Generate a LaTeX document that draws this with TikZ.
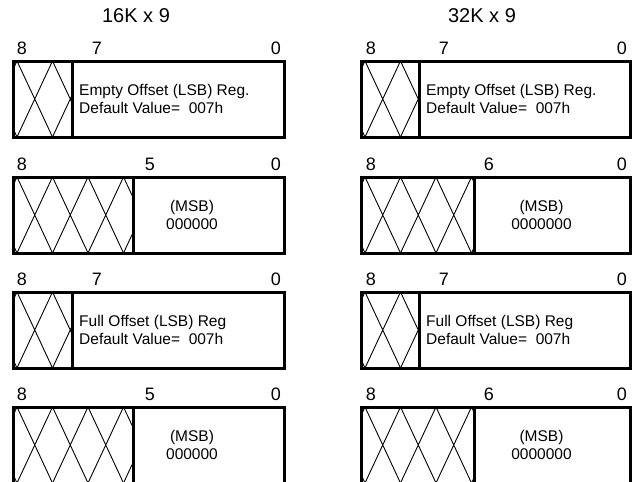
\documentclass[tikz,border=0pt]{standalone}
\usepackage{fontspec}
\setmainfont{Liberation Sans}
\usetikzlibrary{positioning}

\begin{document}
\begin{tikzpicture}[x=1pt, y=-1pt,
    regbox/.style={line width=3pt},
    hatch/.style={line width=0.9pt},
    bitnum/.style={font=\fontsize{18}{20}\selectfont, inner sep=0pt},
    title/.style={font=\fontsize{20}{22}\selectfont, inner sep=0pt},
    regtext/.style={font=\fontsize{15.5}{18}\selectfont, align=left, anchor=west, inner sep=0pt},
    msbtext/.style={font=\fontsize{15.5}{18}\selectfont, align=center, inner sep=0pt}
]
    \useasboundingbox (0,0) rectangle (635,482);

    % registers: left edge / divider / right edge / top
    \foreach \xa/\xd/\xb/\yt in {13/72/284/61, 13/133/284/177, 13/72/284/292, 13/133/284/407,
                                 361/419/630/61, 361/474/630/177, 361/419/630/292, 361/474/630/407}{
        \begin{scope}
            \clip (\xa,\yt) rectangle (\xd,\yt+76);
            \foreach \k in {-1,...,4}
                \draw[hatch] (\xa+4+35.5*\k,\yt) -- (\xa+39.5+35.5*\k,\yt+76)
                             (\xa+39.5+35.5*\k,\yt) -- (\xa+4+35.5*\k,\yt+76);
        \end{scope}
        \draw[regbox] (\xa,\yt) rectangle (\xb,\yt+76);
        \draw[regbox] (\xd,\yt) -- (\xd,\yt+76);
    }

    \node[title] (t16) at (136,16) {16K x 9};
    \node[title] (t32) at (482,16) {32K x 9};

    % bit numbers
    \foreach \yt/\lo/\lx/\ro/\rx in {61/7/97/7/444, 177/5/150/6/489, 292/7/97/7/444, 407/5/150/6/489}{
        \node[bitnum] (l8\yt) at (22,\yt-12.5) {8};
        \node[bitnum] (lm\yt) at (\lx,\yt-12.5) {\lo};
        \node[bitnum] (l0\yt) at (276,\yt-12.5) {0};
        \node[bitnum] (r8\yt) at (371,\yt-12.5) {8};
        \node[bitnum] (rm\yt) at (\rx,\yt-12.5) {\ro};
        \node[bitnum] (r0\yt) at (622,\yt-12.5) {0};
    }

    % register contents
    \node[regtext] (ea) at (79,99) {Empty Offset (LSB) Reg.\\Default Value=\ \ 007h};
    \node[regtext] (eb) at (426,99) {Empty Offset (LSB) Reg.\\Default Value=\ \ 007h};
    \node[msbtext] (ma) at (192,215) {(MSB)\\000000};
    \node[msbtext] (mb) at (541.5,215) {(MSB)\\0000000};
    \node[regtext] (fa) at (79,330) {Full Offset (LSB) Reg\\Default Value=\ \ 007h};
    \node[regtext] (fb) at (426,330) {Full Offset (LSB) Reg\\Default Value=\ \ 007h};
    \node[msbtext] (mc) at (192,445) {(MSB)\\000000};
    \node[msbtext] (md) at (541.5,445) {(MSB)\\0000000};
\end{tikzpicture}
\end{document}
